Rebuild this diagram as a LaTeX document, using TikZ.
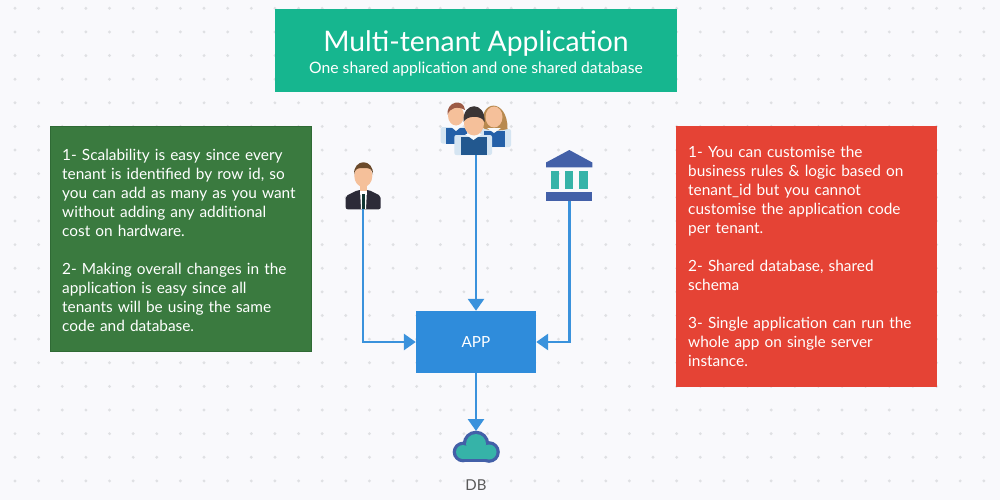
\documentclass[tikz,border=0pt]{standalone}
\usepackage{fontspec}
\setmainfont{Lato}
\usepackage{tikz}
\usetikzlibrary{arrows.meta,positioning}

\definecolor{pagebg}{HTML}{F9F9FC}
\definecolor{griddot}{HTML}{DFE0E3}
\definecolor{titleteal}{HTML}{16B68F}
\definecolor{prosgreen}{HTML}{3A7A3F}
\definecolor{prosedge}{HTML}{2F6A35}
\definecolor{consred}{HTML}{E54335}
\definecolor{appblue}{HTML}{2F8CDB}
\definecolor{linkblue}{HTML}{3A92DC}
\definecolor{iconblue}{HTML}{4360A8}
\definecolor{iconteal}{HTML}{36B3A8}
\definecolor{skin}{HTML}{F5C09A}
\definecolor{vest}{HTML}{2460A8}
\definecolor{vestdark}{HTML}{22588F}
\definecolor{sleeve}{HTML}{D5E5F2}
\definecolor{suit}{HTML}{2C2B38}
\definecolor{hairbrown}{HTML}{6B4A2B}
\definecolor{hairred}{HTML}{9C5A45}
\definecolor{hairtan}{HTML}{B8894F}
\definecolor{hairdark}{HTML}{3B3535}

\begin{document}
\begin{tikzpicture}[x=1pt,y=-1pt,
  link/.style={draw=linkblue,line width=2.8pt,-{Triangle[length=12pt,width=16pt]}},
  note node/.style={rectangle,text=white,align=left,font=\fontsize{15.4}{19}\selectfont,
    inner sep=0pt,anchor=north west},
  icon node/.style={inner sep=0pt,outer sep=0pt}]
    \fill[pagebg] (0,0) rectangle (1000,500);
    \useasboundingbox (0,0) rectangle (1000,500);
    \foreach \i in {0,...,41}
      \foreach \j in {0,...,20}
        \fill[griddot] ({15+23.63*\i},{8.3+23.63*\j}) circle (1.6);

    % header
    \node[note node,fill=titleteal,minimum width=402pt,minimum height=83pt,
      align=center,anchor=center,font=\fontsize{15.7}{19}\selectfont](Title) at (476,50.5){%
      \rule{0pt}{26pt}{\fontsize{28.3}{31}\selectfont Multi-tenant Application}\\[3pt]
      One shared application and one shared database};

    % side notes
    \node[note node,fill=prosgreen,draw=prosedge,minimum width=261pt,minimum height=225pt,
      text width=237pt](Pros) at (50,126){%
      \rule{0pt}{14pt}1- Scalability is easy since every\\
      tenant is identified by row id, so\\
      you can add as many as you want\\
      without adding any additional\\
      cost on hardware.\\[19pt]
      2- Making overall changes in the\\
      application is easy since all\\
      tenants will be using the same\\
      code and database.};
    \node[note node,fill=consred,minimum width=261pt,minimum height=261pt,
      text width=237pt](Cons) at (676,126){%
      1- You can customise the\\
      business rules \& logic based on\\
      tenant\_id but you cannot\\
      customise the application code\\
      per tenant.\\[19pt]
      2- Shared database, shared\\
      schema\\[19pt]
      3- Single application can run the\\
      whole app on single server\\
      instance.};

    % centre column
    \node[fill=appblue,text=white,minimum width=120pt,minimum height=62pt,
      font=\fontsize{15.3}{19}\selectfont](App) at (476,342){APP};
    \node[icon node,minimum width=36pt,minimum height=48pt](User) at (363,185){};
    \node[icon node,minimum width=72pt,minimum height=52pt](Team) at (476,129){};
    \node[icon node,minimum width=46pt,minimum height=51pt](Bank) at (569.3,175){};
    \node[icon node,minimum width=48pt,minimum height=32pt](Cloud) at (476,447){};
    \node[below=13pt of Cloud,text=black!65,font=\fontsize{15}{18}\selectfont](Db){DB};

    % user icon
    \fill[suit,rounded corners=2pt] (345.7,209.3) -- (345.7,196) -- (358,190) -- (369,190) -- (380.7,196) -- (380.7,209.3) -- cycle;
    \fill[white] (360,190) -- (367,190) -- (366,209) -- (361,209) -- cycle;
    \fill[black!70!iconteal] (362.3,194) rectangle (364.8,209);
    \fill[skin] (363.3,176) ellipse (9 and 11);
    \fill[skin] (359.5,184) rectangle (367,191);
    \fill[hairbrown] (354,175) .. controls (353,158) and (374,158) .. (373,175)
      .. controls (372,168) and (369,168) .. (363.5,168) .. controls (358,168) and (355,168) .. (354,175) -- cycle;

    % team icon, back row first
    \fill[sleeve,rounded corners=2pt] (440.7,143.5) rectangle (470,127);
    \fill[vest] (445.7,143.5) rectangle (466.7,128);
    \fill[white!80!sleeve] (450,126) -- (462,126) -- (456,131) -- cycle;
    \fill[skin] (456,115.5) ellipse (8 and 10);
    \fill[hairred] (447.5,115) .. controls (446,101) and (464,98) .. (465,110)
      .. controls (458,106) and (450,107) .. (447.5,115) -- cycle;
    \fill[sleeve,rounded corners=2pt] (480,147) rectangle (511,129);
    \fill[vest] (484,147) rectangle (505,131);
    \fill[hairtan] (483,128) .. controls (478,98) and (508,98) .. (507.5,129)
      .. controls (502,131) and (488,131) .. (483,128) -- cycle;
    \fill[skin] (494,117) ellipse (8.5 and 10.5);
    \fill[white!80!sleeve] (487,128) -- (501,128) -- (494,133) -- cycle;
    \fill[sleeve,rounded corners=2pt] (454.3,155) rectangle (492,135);
    \fill[vestdark] (460.7,155) rectangle (486.7,137);
    \fill[white!80!sleeve] (465,134) -- (482,134) -- (473.5,140) -- cycle;
    \fill[skin] (474,123.5) ellipse (10 and 12);
    \fill[hairdark] (463.5,122) .. controls (462,101) and (486,101) .. (484.5,122)
      .. controls (482,115) and (467,115) .. (463.5,122) -- cycle;

    % bank icon
    \fill[iconblue] (569.3,150) -- (592.3,162.5) -- (592.3,167.3) -- (546,167.3) -- (546,162.5) -- cycle;
    \fill[iconteal] (551.3,171) rectangle (559,189);
    \fill[iconteal] (565.3,171) rectangle (573.3,189);
    \fill[iconteal] (579.3,171) rectangle (587.7,189);
    \fill[iconblue] (546.3,192) rectangle (592.3,200.7);

    % cloud icon
    \foreach \cx/\cy/\cr in {463/452/7,476/444/10,489/452/7.5}
      \draw[iconblue,line width=6.5pt] (\cx,\cy) circle (\cr);
    \draw[iconblue,line width=6.5pt] (463,459) -- (489,459);
    \foreach \cx/\cy/\cr in {463/452/7,476/444/10,489/452/7.5}
      \fill[iconteal] (\cx,\cy) circle (\cr);
    \fill[iconteal] (463,448) rectangle (489,459);

    % links
    \draw[link] (User.south) |- (App.west);
    \draw[link] (Team.south -| App.north) -- (App.north);
    \draw[link] (Bank.south) |- (App.east);
    \draw[link] (App.south) -- (Cloud.north);

\end{tikzpicture}
\end{document}
